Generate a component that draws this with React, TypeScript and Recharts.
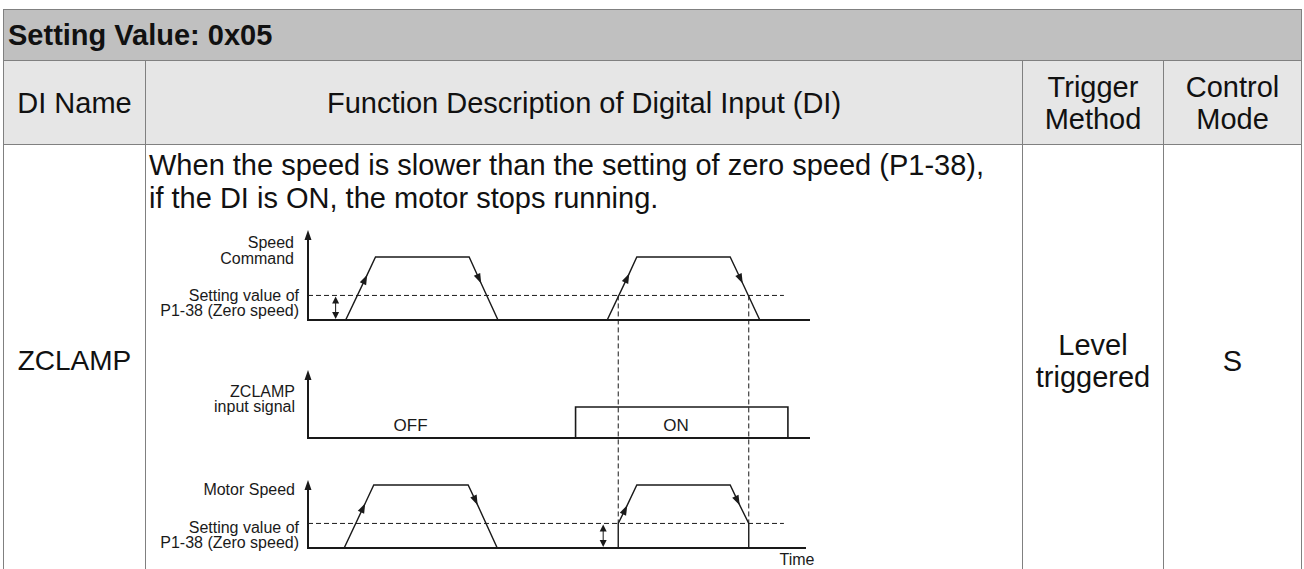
import React from 'react'
import { ComposedChart, Line, XAxis, YAxis, ReferenceLine } from 'recharts'

// time runs 0..100 across the diagram; speeds are % of the command level
const CMD_T = [0, 7.5, 11.8, 13.45, 32.1, 34.5, 37.85, 59.6, 64.0, 65.5, 84.1, 86.6, 90.0, 100]
const CMD_V = [0, 0, 72, 100, 100, 58, 0, 0, 74, 100, 100, 58, 0, 0]
const CMD_ARROWS = [2, 5, 8, 11]

const ZC_T = [0, 53.3, 53.3, 95.6, 95.6, 100]
const ZC_V = [0, 0, 1, 1, 0, 0]

const MOTOR_T = [0, 7.2, 11.4, 13.1, 31.9, 33.8, 37.7, 61.8, 61.8, 63.6, 65.5, 84.1, 86.0, 87.8, 87.8, 99.2]
const MOTOR_V = [0, 0, 71, 100, 100, 68, 0, 0, 39, 68, 100, 100, 68, 39, 0, 0]
const MOTOR_ARROWS = [2, 5, 9, 12]

const ZERO_SPEED = 39 // P1-38 level, % of command
const CLAMP_EDGES = [61.8, 87.8] // where the command crosses the zero-speed level
const THRESH_END = 94.8

const TITLE = 'Setting Value: 0x05'
const HEADERS = [['DI Name'], ['Function Description of Digital Input (DI)'], ['Trigger', 'Method'], ['Control', 'Mode']]
const DESC = ['When the speed is slower than the setting of zero speed (P1-38),', 'if the DI is ON, the motor stops running.']

// lanes of the stacked timing diagram (y units = px inside plot)
const PLOT_TOP = 220
const PLOT_BOTTOM = 550
const CMD_BASE = 230
const ZC_BASE = 112
const MOTOR_BASE = 2
const SPEED_PX = 0.63
const ZC_HIGH = 31

const INK = '#1a1a1a'
const GRID = '#808080'
const FONT = '"Liberation Sans", Arial, Helvetica, sans-serif'

const toRows = (ts: number[], vs: number[], base: number, k: number, arrows: number[] = []) =>
  ts.map((t, i) => ({ t, y: base + vs[i] * k, arrow: arrows.includes(i) }))

const cmdRows = toRows(CMD_T, CMD_V, CMD_BASE, SPEED_PX, CMD_ARROWS)
const zcRows = toRows(ZC_T, ZC_V, ZC_BASE, ZC_HIGH)
const motorRows = toRows(MOTOR_T, MOTOR_V, MOTOR_BASE, SPEED_PX, MOTOR_ARROWS)

const cmdZero = CMD_BASE + ZERO_SPEED * SPEED_PX
const motorZero = MOTOR_BASE + ZERO_SPEED * SPEED_PX

const tri = (x: number, y: number, ang: number, len: number, half: number) => {
  const bx = x - Math.cos(ang) * len
  const by = y - Math.sin(ang) * len
  const nx = -Math.sin(ang) * half
  const ny = Math.cos(ang) * half
  return `${x},${y} ${bx + nx},${by + ny} ${bx - nx},${by - ny}`
}

const RampArrow = (props: any) => {
  const { cx, cy, index, points, payload } = props
  if (!payload || !payload.arrow || !points) return <g key={`a-${index}`} />
  const a = points[index - 1]
  const b = points[index + 1]
  const ang = Math.atan2(b.y - a.y, b.x - a.x)
  return <polygon key={`a-${index}`} points={tri(cx, cy, ang, 10, 3.5)} fill={INK} />
}

const AxisArrow = (p: any) => {
  const top = Math.min(p.y1, p.y2)
  const bot = Math.max(p.y1, p.y2)
  return (
    <g>
      <line x1={p.x1} x2={p.x1} y1={top + 6} y2={bot + 1} stroke={INK} strokeWidth={2} />
      <polygon points={tri(p.x1, top, -Math.PI / 2, 10, 3.5)} fill={INK} />
    </g>
  )
}

const DoubleArrow = (p: any) => {
  const top = Math.min(p.y1, p.y2)
  const bot = Math.max(p.y1, p.y2)
  return (
    <g>
      <line x1={p.x1} x2={p.x1} y1={top + 4} y2={bot - 4} stroke={INK} strokeWidth={1} />
      <polygon points={tri(p.x1, top + 1, -Math.PI / 2, 7, 3.5)} fill={INK} />
      <polygon points={tri(p.x1, bot - 1, Math.PI / 2, 7, 3.5)} fill={INK} />
    </g>
  )
}

function TimingDiagram() {
  const seg = (x1: number, y1: number, x2: number, y2: number) => [
    { x: x1, y: y1 },
    { x: x2, y: y2 },
  ]
  return (
    <div style={{ position: 'absolute', left: 160, top: PLOT_TOP - 5 }}>
      <ComposedChart width={680} height={569 - PLOT_TOP + 5} margin={{ top: 5, right: 30, bottom: 569 - PLOT_BOTTOM, left: 148 }}>
        <XAxis type="number" dataKey="t" domain={[0, 100]} hide allowDataOverflow />
        <YAxis type="number" dataKey="y" domain={[0, PLOT_BOTTOM - PLOT_TOP]} hide allowDataOverflow />

        {/* axes with arrow tips */}
        <ReferenceLine segment={seg(0, CMD_BASE, 0, CMD_BASE + 90)} shape={AxisArrow} ifOverflow="visible" />
        <ReferenceLine segment={seg(0, ZC_BASE, 0, ZC_BASE + 68)} shape={AxisArrow} ifOverflow="visible" />
        <ReferenceLine segment={seg(0, MOTOR_BASE, 0, MOTOR_BASE + 68)} shape={AxisArrow} ifOverflow="visible" />

        {/* baselines */}
        <ReferenceLine segment={seg(0, CMD_BASE, 100, CMD_BASE)} stroke={INK} strokeWidth={2} ifOverflow="visible" />
        <ReferenceLine segment={seg(0, ZC_BASE, 100, ZC_BASE)} stroke={INK} strokeWidth={2} ifOverflow="visible" />
        <ReferenceLine segment={seg(0, MOTOR_BASE, 99.2, MOTOR_BASE)} stroke={INK} strokeWidth={2} ifOverflow="visible" />

        {/* zero speed level */}
        <ReferenceLine segment={seg(0, cmdZero, THRESH_END, cmdZero)} stroke={INK} strokeWidth={1} strokeDasharray="5 3" ifOverflow="visible" />
        <ReferenceLine segment={seg(0, motorZero, THRESH_END, motorZero)} stroke={INK} strokeWidth={1} strokeDasharray="5 3" ifOverflow="visible" />
        <ReferenceLine segment={seg(5.5, CMD_BASE, 5.5, cmdZero)} shape={DoubleArrow} ifOverflow="visible" />
        <ReferenceLine segment={seg(58.8, MOTOR_BASE, 58.8, motorZero)} shape={DoubleArrow} ifOverflow="visible" />

        {CLAMP_EDGES.map((t) => (
          <ReferenceLine key={t} segment={seg(t, cmdZero, t, motorZero)} stroke={INK} strokeWidth={1} strokeDasharray="5 3" ifOverflow="visible" />
        ))}

        <Line data={cmdRows} dataKey="y" type="linear" stroke={INK} strokeWidth={1.4} dot={RampArrow} activeDot={false} isAnimationActive={false} />
        <Line data={zcRows} dataKey="y" type="linear" stroke={INK} strokeWidth={1.6} dot={false} activeDot={false} isAnimationActive={false} />
        <Line data={motorRows} dataKey="y" type="linear" stroke={INK} strokeWidth={1.4} dot={RampArrow} activeDot={false} isAnimationActive={false} />
      </ComposedChart>
    </div>
  )
}

function DiagramLabels() {
  const py = (u: number) => PLOT_BOTTOM - u
  const right = (x: number, y: number, s: string) => (
    <text key={s + y} x={x} y={y} textAnchor="end">
      {s}
    </text>
  )
  return (
    <svg width={1304} height={569} style={{ position: 'absolute', left: 0, top: 0, pointerEvents: 'none' }}>
      <g fontFamily={FONT} fontSize={16} fill={INK}>
        {right(294, py(CMD_BASE + 90) + 18, 'Speed')}
        {right(294, py(CMD_BASE + 90) + 34, 'Command')}
        {right(299, py(cmdZero) + 6, 'Setting value of')}
        {right(299, py(cmdZero) + 21, 'P1-38 (Zero speed)')}
        {right(295, py(ZC_BASE + 68) + 27, 'ZCLAMP')}
        {right(295, py(ZC_BASE + 68) + 42, 'input signal')}
        <text x={410.6} y={py(ZC_BASE) - 7} textAnchor="middle" fontSize={17}>OFF</text>
        <text x={676} y={py(ZC_BASE) - 7} textAnchor="middle" fontSize={17}>ON</text>
        {right(295, py(MOTOR_BASE + 68) + 15, 'Motor Speed')}
        {right(299, py(motorZero) + 9.5, 'Setting value of')}
        {right(299, py(motorZero) + 24.5, 'P1-38 (Zero speed)')}
        <text x={797} y={565} textAnchor="middle">Time</text>
      </g>
    </svg>
  )
}

const COLS = [3, 145, 1022, 1163, 1301]
const TOP = 9
const TITLE_B = 60
const HEAD_B = 144
const BODY_B = 576

function Cell({ x1, x2, y1, y2, lines, size = 29 }: { x1: number; x2: number; y1: number; y2: number; lines: string[]; size?: number }) {
  return (
    <div
      style={{
        position: 'absolute', left: x1 + 1, top: y1 + 1, width: x2 - x1 - 1, height: y2 - y1 - 1,
        display: 'flex', flexDirection: 'column', alignItems: 'center', justifyContent: 'center',
        fontSize: size, lineHeight: '32px', textAlign: 'center', color: '#111',
      }}
    >
      {lines.map((l) => (
        <div key={l}>{l}</div>
      ))}
    </div>
  )
}

export default function App() {
  const rule = (left: number, top: number, width: number, height: number, k: string) => (
    <div key={k} style={{ position: 'absolute', left, top, width, height, background: GRID }} />
  )
  return (
    <div style={{ position: 'absolute', left: 0, top: 0, width: 1304, height: 569, overflow: 'hidden', background: '#fff', fontFamily: FONT }}>
      {/* title row */}
      <div style={{ position: 'absolute', left: COLS[0], top: TOP, width: COLS[4] - COLS[0], height: TITLE_B - TOP, background: '#c0c0c0' }} />
      <div style={{ position: 'absolute', left: 8, top: TOP + 1, height: TITLE_B - TOP - 1, lineHeight: `${TITLE_B - TOP}px`, fontSize: 29, fontWeight: 'bold', color: '#111' }}>
        {TITLE}
      </div>
      {/* header row */}
      <div style={{ position: 'absolute', left: COLS[0], top: TITLE_B, width: COLS[4] - COLS[0], height: HEAD_B - TITLE_B, background: '#e6e6e6' }} />
      {HEADERS.map((h, i) => (
        <Cell key={i} x1={COLS[i]} x2={COLS[i + 1]} y1={TITLE_B} y2={HEAD_B} lines={h} />
      ))}
      {/* body row */}
      <Cell x1={COLS[0]} x2={COLS[1]} y1={HEAD_B} y2={BODY_B} lines={['ZCLAMP']} size={28} />
      <Cell x1={COLS[2]} x2={COLS[3]} y1={HEAD_B} y2={BODY_B} lines={['Level', 'triggered']} />
      <Cell x1={COLS[3]} x2={COLS[4]} y1={HEAD_B} y2={BODY_B} lines={['S']} />
      <div style={{ position: 'absolute', left: 149, top: 149, fontSize: 29, lineHeight: '33px', color: '#111', whiteSpace: 'nowrap' }}>
        {DESC.map((d) => (
          <div key={d}>{d}</div>
        ))}
      </div>

      <TimingDiagram />
      <DiagramLabels />

      {/* grid lines */}
      {rule(COLS[0], TOP, COLS[4] - COLS[0] + 1, 1, 't')}
      {rule(COLS[0], TITLE_B, COLS[4] - COLS[0] + 1, 1, 'h1')}
      {rule(COLS[0], HEAD_B, COLS[4] - COLS[0] + 1, 1, 'h2')}
      {rule(COLS[0], TOP, 1, 600, 'l')}
      {rule(COLS[4], TOP, 1, 600, 'r')}
      {COLS.slice(1, 4).map((x) => rule(x, TITLE_B, 1, 600, `v${x}`))}
    </div>
  )
}
